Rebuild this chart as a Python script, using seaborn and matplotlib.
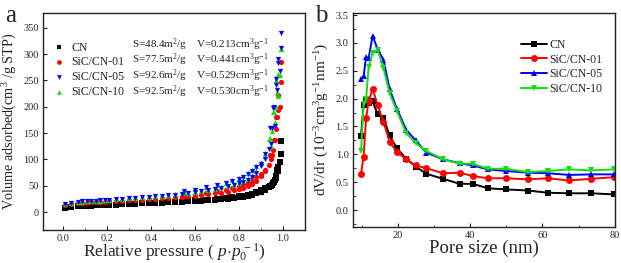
import matplotlib
matplotlib.use("Agg")
import matplotlib.pyplot as plt
from matplotlib.ticker import MultipleLocator
import seaborn as sns

sns.set_style("ticks")
plt.rcParams["font.family"] = ["Liberation Serif", "DejaVu Serif"]
plt.rcParams["mathtext.fontset"] = "custom"
plt.rcParams["mathtext.rm"] = "Liberation Serif"
plt.rcParams["mathtext.it"] = "Liberation Serif:italic"

# ---- panel a: N2 isotherms (adsorption + desorption points) ----
names = ["CN", "SiC/CN-01", "SiC/CN-05", "SiC/CN-10"]
surface = ["48.4", "77.5", "92.6", "92.5"]
volume = ["0.213", "0.441", "0.529", "0.530"]

p_ads = [0.01, 0.04, 0.07, 0.09, 0.11, 0.13, 0.15, 0.17, 0.19, 0.21, 0.24, 0.27,
         0.30, 0.33, 0.36, 0.39, 0.42, 0.45, 0.48, 0.51, 0.54, 0.57, 0.60, 0.63,
         0.66, 0.69, 0.72, 0.75, 0.78, 0.80, 0.82, 0.84, 0.86, 0.88, 0.90, 0.92,
         0.94, 0.96, 0.97, 0.98, 0.99]
p_des = [0.993, 0.985, 0.98, 0.975, 0.97, 0.965, 0.955, 0.95, 0.945, 0.935, 0.92,
         0.90, 0.88, 0.86, 0.84, 0.82, 0.80, 0.77, 0.74, 0.70, 0.65, 0.60, 0.55]

cn_ads = [8, 9.5, 11, 11.5, 12, 12.5, 13, 13.3, 13.7, 14, 14.5, 15, 15.5, 16, 16.5,
          17, 17.5, 18, 18.6, 19.2, 19.8, 20.5, 21.2, 22, 22.8, 23.7, 24.6, 25.7,
          27, 28, 29.5, 31, 33, 35.5, 39, 43, 49, 58, 65, 78, 110]
cn_des = [135, 95, 86, 80, 68, 62, 55, 52, 49, 47, 45, 42, 38, 35, 33, 31, 30,
          28, 27, 25.5, 24, 22.5, 21]

s01_ads = [14, 15, 17, 17.5, 18, 18.5, 19, 19.5, 20, 20.5, 21, 21.7, 22.4, 23,
           23.7, 24.4, 25, 26, 27, 28, 29, 30, 31, 32.5, 34, 35.5, 37, 39, 41.5,
           43.5, 46, 50, 54, 60, 68, 80, 108, 137, 180, 222, 285]
s01_des = [246, 200, 194, 180, 158, 137, 118, 108, 100, 90, 78, 72, 66, 60, 56,
           53, 50, 46, 43, 40, 36, 33, 30]

s05_ads = [16, 17, 20, 20.5, 21, 21.5, 22, 22.5, 23, 23.6, 24.3, 25, 26, 27, 28,
           29, 30, 31, 32, 33.5, 35, 36.5, 38, 40, 42, 44, 46.5, 49, 52, 55, 58,
           62, 67, 75, 88, 110, 160, 200, 252, 290, 339]
s05_des = [312, 267, 283, 232, 242, 163, 198, 160, 130, 120, 100, 92, 85, 78, 72,
           67, 63, 60, 55, 51, 47, 43, 40]

s10_ads = [15, 16.5, 19.5, 20, 20.5, 21, 21.5, 22, 22.7, 23.4, 24.2, 25, 26, 27,
           28.2, 29.3, 30.5, 31.6, 32.8, 34, 35.5, 37, 38.5, 40.5, 42.5, 44.5, 47,
           49.5, 52.5, 55.5, 58.5, 62.5, 68, 78, 93, 112, 141, 190, 250, 262, 310]
s10_des = [310, 261, 220, 228, 200, 172, 190, 154, 125, 138, 106, 96, 88, 80, 74,
           68, 64, 61, 56, 52, 48, 44, 41]

# ---- panel b: BJH pore size distribution ----
pore = [9.8, 10.5, 11.2, 11.9, 13.0, 14.4, 16.0, 17.7, 19.7, 22.3, 24.9, 27.9,
        32.5, 37.1, 40.7, 44.9, 50.0, 55.9, 61.5, 67.3, 73.5, 79.8]
psd_cn = [1.33, 1.88, 1.97, 1.93, 1.95, 1.72, 1.65, 1.34, 1.11, 0.92, 0.78, 0.65,
          0.56, 0.47, 0.47, 0.39, 0.37, 0.35, 0.31, 0.30, 0.30, 0.28]
psd_01 = [0.65, 0.95, 1.65, 1.95, 2.18, 1.88, 1.58, 1.23, 1.04, 0.91, 0.80, 0.75,
          0.66, 0.67, 0.61, 0.57, 0.57, 0.55, 0.57, 0.53, 0.56, 0.59]
psd_05 = [2.36, 2.40, 2.75, 2.73, 3.13, 2.88, 2.70, 2.17, 1.82, 1.44, 1.25, 1.03,
          0.91, 0.84, 0.80, 0.73, 0.70, 0.67, 0.66, 0.63, 0.64, 0.64]
psd_10 = [1.06, 1.90, 2.00, 2.57, 2.82, 2.87, 2.55, 2.10, 1.78, 1.38, 1.20, 1.06,
          0.91, 0.83, 0.83, 0.74, 0.74, 0.68, 0.70, 0.73, 0.71, 0.73]

colors = ["#000000", "#ff0000", "#0000ff", "#10e010"]
markers_a = ["s", "o", "v", "^"]
markers_b = ["s", "o", "^", "v"]

fig = plt.figure(figsize=(6.21, 2.63), dpi=100)
ax1 = fig.add_axes([0.069, 0.125, 0.422, 0.826])
ax2 = fig.add_axes([0.568, 0.138, 0.422, 0.813])

iso = [(cn_ads, cn_des), (s01_ads, s01_des), (s05_ads, s05_des), (s10_ads, s10_des)]
draw_order = [0, 1, 3, 2]
handles = {}
for i in draw_order:
    ads, des = iso[i]
    sns.scatterplot(x=p_ads + p_des, y=ads + des, ax=ax1, color=colors[i],
                    marker=markers_a[i], s=14, linewidth=0, label=names[i])
    handles[i] = ax1.collections[-1]

ax1.legend([handles[i] for i in range(4)], names, loc="upper left",
           bbox_to_anchor=(0.015, 0.89), frameon=False, fontsize=8.5,
           handletextpad=0.5, labelspacing=0.25, borderaxespad=0, markerscale=0.9,
           handlelength=1.2)
row_y = [0.855, 0.783, 0.711, 0.639]
for i in range(4):
    ax1.text(0.342, row_y[i], "S=%sm$^2$/g" % surface[i], transform=ax1.transAxes,
             fontsize=8, va="center")
    ax1.text(0.584, row_y[i], "V=%scm$^3$g$^{-1}$" % volume[i],
             transform=ax1.transAxes, fontsize=8, va="center")

ax1.set_xlim(-0.09, 1.1)
ax1.set_ylim(-34, 378)
ax1.xaxis.set_major_locator(MultipleLocator(0.2))
ax1.xaxis.set_minor_locator(MultipleLocator(0.1))
ax1.yaxis.set_major_locator(MultipleLocator(50))
ax1.set_xlabel("Relative pressure ( $p{\\cdot}p_0^{\\,-1}$)", fontsize=12.5, labelpad=-1)
ax1.set_ylabel("Volume adsorbed(cm$^3$ /g STP)", fontsize=10.3, labelpad=3)

psd = [psd_cn, psd_01, psd_05, psd_10]
for i in range(4):
    sns.lineplot(x=pore, y=psd[i], ax=ax2, color=colors[i], marker=markers_b[i],
                 markersize=5, markeredgewidth=0, linewidth=1.4, label=names[i],
                 sort=False)
ax2.legend(loc="upper right", bbox_to_anchor=(0.97, 0.9), frameon=False,
           fontsize=8.5, handlelength=2.2, handletextpad=0.2, labelspacing=0.22,
           borderaxespad=0)
ax2.set_xlim(7.5, 80)
ax2.set_ylim(-0.3, 3.54)
ax2.xaxis.set_major_locator(MultipleLocator(20))
ax2.xaxis.set_minor_locator(MultipleLocator(10))
ax2.yaxis.set_major_locator(MultipleLocator(0.5))
ax2.yaxis.set_minor_locator(MultipleLocator(0.25))
ax2.set_xlabel("Pore size (nm)", fontsize=13.5, labelpad=0)
ax2.set_ylabel("dV/dr (10$^{-3}$cm$^3$g$^{-1}$nm$^{-1}$)", fontsize=11, labelpad=3)

for ax in (ax1, ax2):
    ax.tick_params(which="both", direction="in", labelsize=7.5, pad=3,
                   color="#222222", top=False, right=False)
    ax.tick_params(which="major", length=3, width=0.8)
    ax.tick_params(which="minor", length=1.8, width=0.6)
    for sp in ax.spines.values():
        sp.set_visible(True)
        sp.set_color("#222222")
        sp.set_linewidth(1.0)

fig.text(0.008, 0.916, "a", fontsize=18, va="baseline")
fig.text(0.507, 0.916, "b", fontsize=18, va="baseline")

fig.savefig("out.png", dpi=100)
